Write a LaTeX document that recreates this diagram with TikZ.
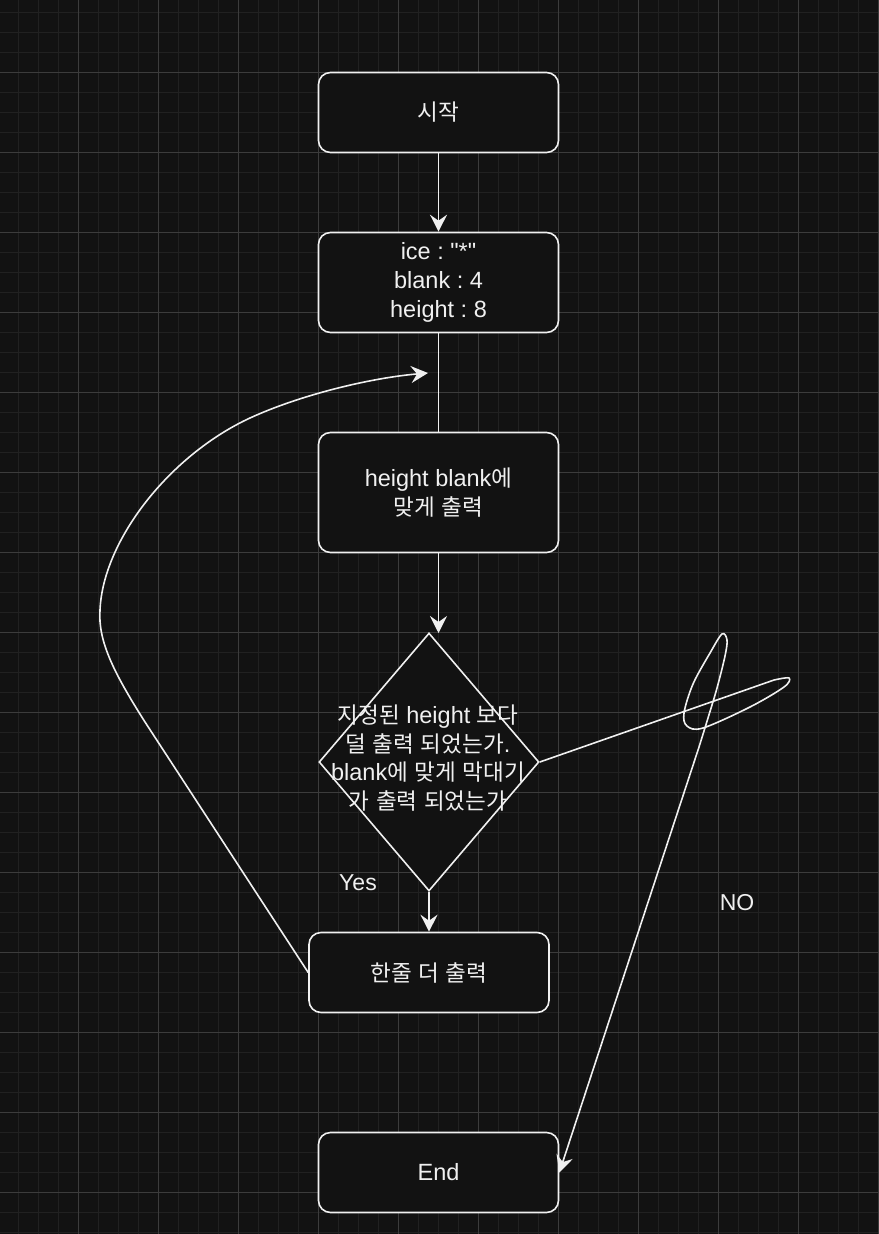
\documentclass[tikz,border=0pt]{standalone}
\usepackage{fontspec}
\setmainfont{Liberation Sans}[Ligatures=TeXOff]
\newfontfamily\krfont{Noto Sans CJK KR}[Scale=0.96]
\usetikzlibrary{arrows.meta,shapes.geometric}
\definecolor{bgc}{RGB}{18,18,18}
\definecolor{gridminor}{RGB}{33,33,33}
\definecolor{gridmajor}{RGB}{60,60,60}
\definecolor{fgc}{RGB}{240,240,240}
\newcommand{\kor}[1]{{\krfont #1}}
\frenchspacing
\begin{document}
\begin{tikzpicture}[x=1pt,y=-1pt,
  flowbox/.style={rectangle, rounded corners=12pt, draw=fgc, fill=bgc, line width=1.6pt,
    minimum width=240pt, minimum height=80pt, inner sep=0pt, align=center, text=fgc,
    font=\fontsize{23.5}{28.8}\selectfont},
  decbox/.style={diamond, draw=fgc, fill=bgc, line width=1.6pt, minimum width=220pt,
    minimum height=258pt, inner sep=0pt},
  txt/.style={text=fgc, align=center, font=\fontsize{23.5}{28.8}\selectfont, inner sep=0pt},
  lbl/.style={text=fgc, font=\fontsize{23}{27}\selectfont, inner sep=0pt},
  edge/.style={draw=fgc, line width=1.6pt},
  arr/.style={edge, -{Stealth[length=17pt, width=17pt, inset=6pt]}}
]
\fill[bgc] (0,0) rectangle (878,1234);
\useasboundingbox (0,0) rectangle (878,1234);
% grid
\foreach \gx in {18,38,...,878} \draw[gridminor, line width=1pt] (\gx,0) -- (\gx,1234);
\foreach \gy in {12,32,...,1234} \draw[gridminor, line width=1pt] (0,\gy) -- (878,\gy);
\foreach \gx in {78,158,...,878} \draw[gridmajor, line width=1pt] (\gx,0) -- (\gx,1234);
\foreach \gy in {72,152,...,1234} \draw[gridmajor, line width=1pt] (0,\gy) -- (878,\gy);

% nodes
\node[flowbox] (start) at (438.5,112.5) {\kor{시작}};
\node[flowbox, minimum height=100pt] (init) at (438.5,282.5) {ice : "*"\\blank : 4\\height : 8};
\node[flowbox, minimum height=120pt] (print) at (438.5,492.5) {height blank\kor{에}\\\kor{맞게} \kor{출력}};
\node[decbox] (dec) at (429,762) {};
\node[txt] (dectxt) at (428,758) {\kor{지정된} height \kor{보다}\\\kor{덜} \kor{출력} \kor{되었는가}.\\blank\kor{에} \kor{맞게} \kor{막대기}\\\kor{가} \kor{출력} \kor{되었는가}};
\node[flowbox] (more) at (429,972.5) {\kor{한줄} \kor{더} \kor{출력}};
\node[flowbox] (end) at (438.5,1172.5) {End};

\node[lbl] (yes) at (358,883) {Yes};
\node[lbl] (no) at (737,903) {NO};

\coordinate (decin) at (438.5,633);
\coordinate (loopend) at (428,373);

% connectors
\draw[arr] (start) -- (init);
\draw[edge] (init) -- (print);
\draw[arr] (print.south) -- (decin);
\draw[arr] (dec.south) -- (more.north);
\draw[arr] (more.west) -- (145,722) .. controls (112,670) and (98,640) .. (100,610)
  .. controls (103,540) and (170,455) .. (250,418)
  .. controls (300,395) and (370,378) .. (loopend);
\draw[arr] (dec.east) -- plot[smooth, tension=0.55] coordinates {(774,680) (789,678) (784,687) (750,707) (703,728) (687,726) (684,713) (693,684) (710,653) (722,634) (727,640) (725,656) (717,688) (708,718) (699,747)} -- (end.east);
\end{tikzpicture}
\end{document}
